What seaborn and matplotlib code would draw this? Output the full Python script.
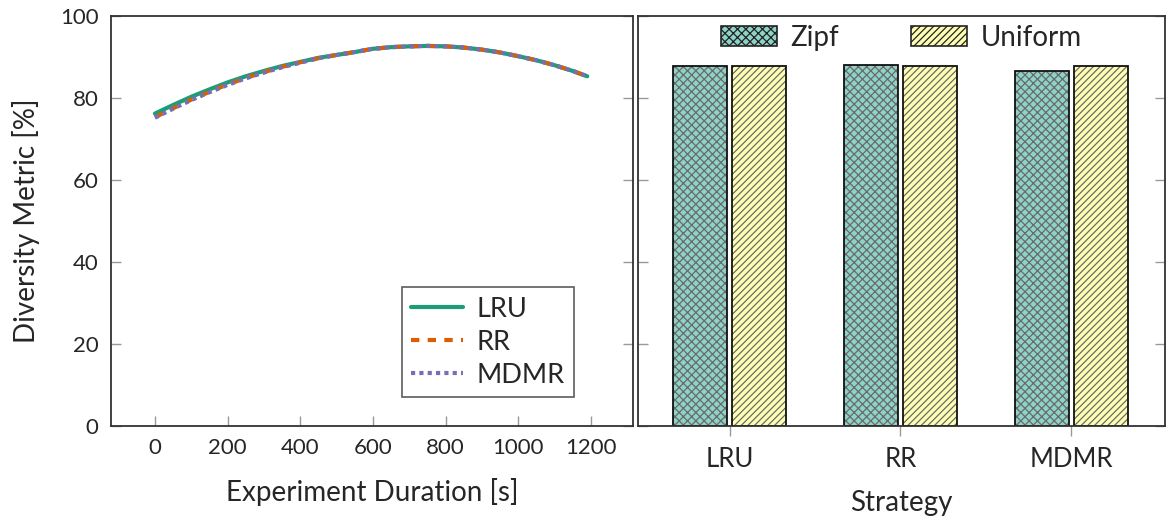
import numpy as np
import pandas as pd
import matplotlib
matplotlib.use("Agg")
import matplotlib.pyplot as plt
import matplotlib.patches as mpatches
import seaborn as sns

# ---------------- data ----------------
time_s = [0, 50, 100, 150, 200, 250, 300, 350, 400, 450, 500, 550, 600,
          650, 700, 750, 800, 850, 900, 950, 1000, 1050, 1100, 1150, 1190]
lru = [76.2, 78.3, 80.3, 82.1, 83.8, 85.3, 86.6, 87.8, 88.8, 89.8, 90.5, 91.2, 92.0,
       92.4, 92.6, 92.7, 92.6, 92.3, 91.8, 91.1, 90.2, 89.2, 88.0, 86.6, 85.3]
rr = [75.3, 77.5, 79.6, 81.5, 83.3, 84.9, 86.3, 87.6, 88.7, 89.7, 90.5, 91.2, 92.0,
      92.4, 92.6, 92.7, 92.6, 92.3, 91.8, 91.1, 90.2, 89.2, 88.0, 86.6, 85.3]
mdmr = [75.2, 77.4, 79.5, 81.4, 83.2, 84.8, 86.2, 87.5, 88.6, 89.7, 90.5, 91.2, 92.0,
        92.4, 92.6, 92.7, 92.6, 92.3, 91.8, 91.1, 90.2, 89.2, 88.0, 86.6, 85.3]

strategies = ["LRU", "RR", "MDMR"]
zipf = [87.9, 88.0, 86.6]
uniform = [87.9, 87.8, 87.8]

x_ticks = [0, 200, 400, 600, 800, 1000, 1200]
y_ticks = [0, 20, 40, 60, 80, 100]

# ---------------- style ----------------
sns.set_theme(style="white")
plt.rcParams["font.family"] = ["Lato", "DejaVu Sans"]
plt.rcParams["hatch.linewidth"] = 0.9

SPINE = "#333333"
TICK = "#999999"
line_colors = ["#1b9e77", "#d95f02", "#7570b3"]
bar_colors = ["#8dd3c7", "#ffffb3"]

fig = plt.figure(figsize=(11.72, 5.17), dpi=100)
ax1 = fig.add_axes([111 / 1172, 91 / 517, 522 / 1172, 410 / 517])
ax2 = fig.add_axes([638 / 1172, 91 / 517, 527 / 1172, 410 / 517])

# ---------------- left: line plot ----------------
df_line = pd.DataFrame({
    "time": time_s * 3,
    "value": lru + rr + mdmr,
    "strategy": ["LRU"] * len(time_s) + ["RR"] * len(time_s) + ["MDMR"] * len(time_s),
})
sns.lineplot(data=df_line, x="time", y="value", hue="strategy", style="strategy",
             hue_order=strategies, style_order=strategies,
             palette=line_colors,
             dashes={"LRU": "", "RR": (2.0, 2.0), "MDMR": (1.0, 1.0)},
             linewidth=3.0, ax=ax1, legend=False)
ax1.set_xlim(-121, 1316)
ax1.set_ylim(0, 100)
ax1.set_xticks(x_ticks)
ax1.set_yticks(y_ticks)
ax1.set_xlabel("Experiment Duration [s]", fontsize=20, labelpad=14)
ax1.set_ylabel("Diversity Metric [%]", fontsize=20, labelpad=14)
ax1.tick_params(axis="both", labelsize=16, direction="in", length=7,
                color=TICK, width=1.0)
ax1.tick_params(axis="y", left=True, right=True, pad=9)
ax1.tick_params(axis="x", bottom=True, top=False, pad=9)

handles = [
    plt.Line2D([], [], color=line_colors[0], lw=3.0, linestyle="-"),
    plt.Line2D([], [], color=line_colors[1], lw=3.0, dashes=(2.0, 2.0)),
    plt.Line2D([], [], color=line_colors[2], lw=3.0, dashes=(1.0, 1.0)),
]
leg1 = ax1.legend(handles, strategies, loc="lower right",
                  bbox_to_anchor=(0.887, 0.07), borderaxespad=0.0,
                  fontsize=19.5, frameon=True,
                  fancybox=False, edgecolor=SPINE, handlelength=1.9,
                  handletextpad=0.5, borderpad=0.35, labelspacing=0.3)
leg1.get_frame().set_linewidth(1.2)

# ---------------- right: bar plot ----------------
df_bar = pd.DataFrame({
    "strategy": strategies * 2,
    "value": zipf + uniform,
    "dist": ["Zipf"] * 3 + ["Uniform"] * 3,
})
sns.barplot(data=df_bar, x="strategy", y="value", hue="dist",
            order=strategies, hue_order=["Zipf", "Uniform"],
            palette=bar_colors, width=0.688, gap=0.084, saturation=1,
            errorbar=None, ax=ax2, legend=False)
patches = list(ax2.patches)
for i, p in enumerate(patches):
    h = "xxxx" if i < 3 else "/////"
    p.set_hatch(h)
    p.set_edgecolor("#6a6a6a")
    p.set_linewidth(0)
    outline = mpatches.Rectangle(p.get_xy(), p.get_width(), p.get_height(),
                                 fill=False, edgecolor="#111111", linewidth=1.3,
                                 zorder=p.get_zorder() + 0.1)
    ax2.add_patch(outline)

ax2.set_xlim(-0.536, 2.548)
ax2.set_ylim(0, 100)
ax2.set_yticks(y_ticks)
ax2.set_yticklabels([])
ax2.set_xlabel("Strategy", fontsize=20, labelpad=13)
ax2.set_ylabel("")
ax2.tick_params(axis="y", left=True, right=True, direction="in", length=7,
                color=TICK, width=1.0)
ax2.tick_params(axis="x", bottom=True, direction="out", length=7, color=TICK,
                width=1.0, labelsize=18.5, pad=8)

def legend_patch(fc, hatch):
    return mpatches.Patch(facecolor=fc, edgecolor="#222222", hatch=hatch, linewidth=1.2)

leg2 = ax2.legend([legend_patch(bar_colors[0], "xxxx"), legend_patch(bar_colors[1], "/////")],
                  ["Zipf", "Uniform"], loc="upper center", bbox_to_anchor=(0.5, 1.04),
                  ncol=2, frameon=False, fontsize=20, handlelength=2.0,
                  handleheight=0.7, columnspacing=2.6, handletextpad=0.5)

for ax in (ax1, ax2):
    for s in ax.spines.values():
        s.set_color(SPINE)
        s.set_linewidth(1.3)
        s.set_visible(True)

fig.savefig("out.png", dpi=100)
